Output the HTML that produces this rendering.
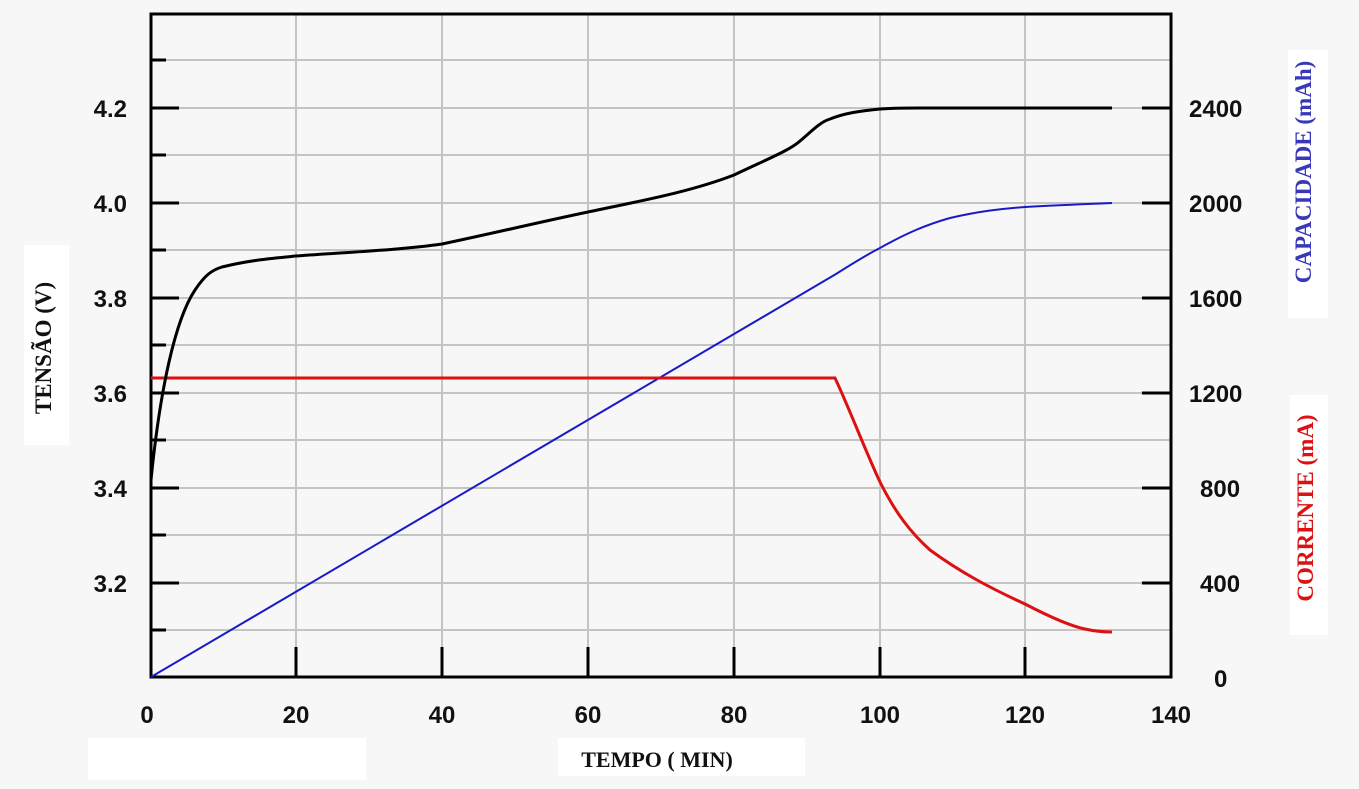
<!DOCTYPE html>
<html><head><meta charset="utf-8"><style>
html,body{margin:0;padding:0;background:#f7f7f7;}
svg{display:block;}
</style></head><body>
<svg width="1359" height="789" xmlns="http://www.w3.org/2000/svg">
<rect width="1359" height="789" fill="#f7f7f7"/>
<rect x="88" y="738" width="278" height="42" fill="#fff"/>
<rect x="558" y="738" width="247" height="38" fill="#fff"/>
<rect x="1288" y="50" width="40" height="268" fill="#fff"/>
<rect x="1290" y="395" width="38" height="240" fill="#fff"/>
<rect x="24" y="245" width="45" height="200" fill="#fff"/>
<g stroke="#c4c4c4" stroke-width="2">
<line x1="296" y1="14" x2="296" y2="677"/><line x1="442" y1="14" x2="442" y2="677"/>
<line x1="588" y1="14" x2="588" y2="677"/><line x1="734" y1="14" x2="734" y2="677"/>
<line x1="880" y1="14" x2="880" y2="677"/><line x1="1025" y1="14" x2="1025" y2="677"/>
<line x1="151" y1="60" x2="1171" y2="60"/><line x1="151" y1="108" x2="1171" y2="108"/>
<line x1="151" y1="155" x2="1171" y2="155"/><line x1="151" y1="203" x2="1171" y2="203"/>
<line x1="151" y1="250" x2="1171" y2="250"/><line x1="151" y1="298" x2="1171" y2="298"/>
<line x1="151" y1="345" x2="1171" y2="345"/><line x1="151" y1="393" x2="1171" y2="393"/>
<line x1="151" y1="440" x2="1171" y2="440"/><line x1="151" y1="488" x2="1171" y2="488"/>
<line x1="151" y1="535" x2="1171" y2="535"/><line x1="151" y1="583" x2="1171" y2="583"/>
<line x1="151" y1="630" x2="1171" y2="630"/>
</g>
<g stroke="#000" stroke-width="3">
<line x1="151" y1="60" x2="166" y2="60"/><line x1="151" y1="108" x2="179" y2="108"/>
<line x1="151" y1="155" x2="166" y2="155"/><line x1="151" y1="203" x2="179" y2="203"/>
<line x1="151" y1="250" x2="166" y2="250"/><line x1="151" y1="298" x2="179" y2="298"/>
<line x1="151" y1="345" x2="166" y2="345"/><line x1="151" y1="393" x2="179" y2="393"/>
<line x1="151" y1="440" x2="166" y2="440"/><line x1="151" y1="488" x2="179" y2="488"/>
<line x1="151" y1="535" x2="166" y2="535"/><line x1="151" y1="583" x2="179" y2="583"/>
<line x1="151" y1="630" x2="166" y2="630"/>
<line x1="1142" y1="108" x2="1171" y2="108"/><line x1="1142" y1="203" x2="1171" y2="203"/>
<line x1="1142" y1="298" x2="1171" y2="298"/><line x1="1142" y1="393" x2="1171" y2="393"/>
<line x1="1142" y1="488" x2="1171" y2="488"/><line x1="1142" y1="583" x2="1171" y2="583"/>
<line x1="296" y1="647" x2="296" y2="677"/><line x1="442" y1="647" x2="442" y2="677"/>
<line x1="588" y1="647" x2="588" y2="677"/><line x1="734" y1="647" x2="734" y2="677"/>
<line x1="880" y1="647" x2="880" y2="677"/><line x1="1025" y1="647" x2="1025" y2="677"/>
</g>
<rect x="151" y="14" width="1020" height="663" fill="none" stroke="#000" stroke-width="3"/>
<path d="M151,677 L836,274 C855,262 868,254 880,248 C905,234 925,225 950,218 C980,211 1000,209 1025,207 C1060,205 1090,204 1112,203" fill="none" stroke="#1a1ac8" stroke-width="2"/>
<path d="M151,378 L835,378 C850,410 865,450 880,482 C895,512 910,532 930,550 C960,572 990,588 1025,604 C1050,617 1070,626 1085,629 C1098,632 1106,632 1112,632" fill="none" stroke="#dd1111" stroke-width="3"/>
<path d="M151,480 C160,390 175,320 195,290 C205,275 212,270 222,267 C250,260 275,258 296,256 C350,252 400,250 442,244 C490,234 540,222 588,212 C640,201 690,192 734,175 C770,158 790,150 800,141 C812,131 820,122 830,119 C845,113 860,111 880,109 C895,108 905,108 920,108 L1112,108" fill="none" stroke="#000" stroke-width="3"/>
<g font-family="Liberation Sans, sans-serif" font-weight="bold" font-size="24" fill="#111">
<text x="127" y="117" text-anchor="end">4.2</text><text x="127" y="212" text-anchor="end">4.0</text>
<text x="127" y="307" text-anchor="end">3.8</text><text x="127" y="402" text-anchor="end">3.6</text>
<text x="127" y="497" text-anchor="end">3.4</text><text x="127" y="592" text-anchor="end">3.2</text>
<text x="1189" y="117">2400</text><text x="1189" y="212">2000</text>
<text x="1189" y="307">1600</text><text x="1189" y="402">1200</text>
<text x="1200" y="497">800</text><text x="1200" y="592">400</text>
<text x="1214" y="687">0</text>
<g text-anchor="middle">
<text x="147" y="723">0</text><text x="296" y="723">20</text><text x="442" y="723">40</text>
<text x="588" y="723">60</text><text x="734" y="723">80</text><text x="880" y="723">100</text>
<text x="1025" y="723">120</text><text x="1171" y="723">140</text>
</g>
</g>
<g font-family="Liberation Serif, serif" font-weight="bold" font-size="22">
<text x="657" y="767" text-anchor="middle" fill="#111">TEMPO ( MIN)</text>
<text transform="translate(51,348) rotate(-90)" text-anchor="middle" fill="#111" font-size="23">TENSÃO (V)</text>
<text transform="translate(1311,172) rotate(-90)" text-anchor="middle" fill="#3838b8" font-size="23">CAPACIDADE (mAh)</text>
<text transform="translate(1313,508) rotate(-90)" text-anchor="middle" fill="#dd1111" font-size="23">CORRENTE (mA)</text>
</g>
</svg>
</body></html>
